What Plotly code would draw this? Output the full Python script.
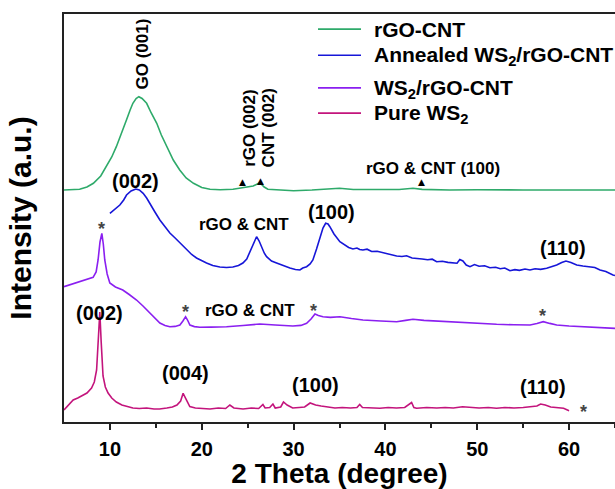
import plotly.graph_objects as go

# XRD patterns: (2-theta in degrees, intensity in a.u. incl. vertical stacking offset)
RGO_CNT = [
    (5.0, 232), (6.0, 232.3), (6.7, 232.7), (7.5, 235), (8.2, 238.7), (9.0, 246), (9.6, 255.3),
    (10.2, 265), (10.7, 275.3), (11.3, 289), (11.8, 302), (12.2, 312), (12.5, 318.7),
    (12.85, 323.5), (13.15, 325.3), (13.5, 323.5), (14.0, 318.7), (14.5, 309), (15.1, 298.7),
    (15.6, 287), (16.2, 275.3), (16.9, 262), (17.6, 252), (18.3, 244), (19.1, 238.7),
    (20.0, 234.5), (20.9, 232.7), (22.0, 232.3), (23.4, 232.7), (24.0, 233.5), (24.7, 234.7),
    (25.6, 236), (26.33, 239.3), (26.8, 235), (27.2, 232.7), (28.5, 231.8), (30.0, 231.3),
    (32.0, 232), (35.0, 233.7), (36.5, 232.5), (39.0, 232.3), (41.5, 232.5), (43.0, 233.7),
    (44.0, 232.6), (47.0, 232), (50.0, 232.3), (55.0, 232), (60.0, 232.2), (65.0, 232),
]

ANNEALED = [
    (10.0, 208.7), (10.5, 213), (11.08, 217), (11.5, 222), (11.81, 227), (12.3, 231),
    (12.82, 233), (13.2, 232), (13.62, 228.7), (14.0, 224), (14.35, 219), (14.9, 210),
    (15.44, 202), (16.0, 195), (16.53, 189), (17.1, 184), (17.62, 179), (18.0, 175.5),
    (18.34, 172), (18.9, 167.5), (19.43, 164), (20.0, 161), (20.52, 159), (21.2, 156.5),
    (21.97, 155), (22.7, 154.5), (23.39, 155), (24.0, 156.5), (24.48, 159), (24.9, 163),
    (25.24, 170), (25.6, 178), (25.97, 185.3), (26.25, 181), (26.51, 175.3), (26.8, 169),
    (27.06, 165.3), (27.6, 161), (28.15, 159), (28.9, 156), (29.6, 154), (30.2, 152.5),
    (30.69, 152), (31.0, 154), (31.42, 155.3), (31.8, 158), (32.1, 162), (32.5, 173),
    (32.87, 185.3), (33.2, 194), (33.49, 198.7), (33.75, 198), (33.95, 195.3), (34.4, 188),
    (35.04, 180.3), (35.6, 177), (36.0, 174.5), (36.46, 173), (36.9, 174), (37.2, 172.5),
    (37.55, 172), (38.0, 172.8), (38.5, 170.5), (39.1, 170.8), (39.73, 169.3), (40.3, 168.5),
    (40.8, 167.2), (41.22, 166), (41.8, 165.5), (42.3, 166.2), (42.9, 164), (43.4, 163.7),
    (44.0, 163), (44.6, 162.2), (45.1, 162.8), (45.58, 160.3), (46.2, 160.8), (46.8, 159.6),
    (47.35, 159.3), (47.8, 158.8), (48.1, 162.5), (48.44, 161), (48.8, 157), (49.21, 155.3),
    (49.7, 157.5), (50.2, 155.8), (50.8, 156.2), (51.38, 154.3), (52.0, 154.8), (52.5, 153.2),
    (53.0, 154), (53.56, 151.3), (54.1, 152.4), (54.6, 151.6), (55.2, 153), (55.74, 152),
    (56.3, 153.2), (56.9, 152.6), (57.56, 153.7), (58.1, 155), (58.65, 157), (59.2, 159.5),
    (59.66, 161), (60.2, 159.5), (60.83, 157), (61.5, 156), (62.28, 155.3), (62.8, 154.5),
    (63.37, 152), (64.0, 150.5), (64.78, 147), (65.0, 146.5),
]

WS2_RGO_CNT = [
    (5.0, 135.3), (5.8, 137.5), (6.72, 140.3), (7.5, 142.5), (8.17, 144.7), (8.5, 150),
    (8.71, 162), (8.92, 180), (9.12, 188.7), (9.28, 178), (9.44, 162), (9.7, 148),
    (9.99, 139), (10.6, 135), (11.4, 132), (12.1, 127.5), (12.9, 122), (13.6, 116),
    (14.35, 109), (14.9, 103.5), (15.44, 99), (16.0, 96.5), (16.53, 95.3), (17.1, 95.6),
    (17.62, 97), (17.95, 101), (18.24, 105.3), (18.45, 102), (18.71, 97), (19.2, 95.4),
    (19.8, 94.7), (21.0, 94.9), (22.7, 95.3), (24.5, 96.5), (26.33, 98), (28.0, 97),
    (29.92, 96), (30.8, 96.6), (31.42, 98.7), (31.9, 103), (32.33, 108), (32.7, 106.5),
    (33.2, 105.3), (34.0, 104.6), (35.05, 105.3), (36.3, 103.5), (37.55, 102), (39.5, 101),
    (41.22, 100.3), (42.2, 101.6), (43.0, 102.7), (44.2, 101.6), (46.67, 100.3),
    (49.5, 99), (52.11, 97.7), (54.0, 97.2), (55.75, 97), (56.5, 98.5), (57.19, 100.3),
    (57.9, 98.6), (58.65, 97), (60.0, 96), (61.19, 95.3), (63.0, 94.5), (64.8, 93.7), (65.0, 93.6),
]

PURE_WS2 = [
    (5.0, 12), (5.5, 17), (6.0, 22), (6.5, 24), (7.1, 27), (7.5, 29), (8.0, 34), (8.3, 40),
    (8.55, 52), (8.75, 85), (8.9, 110), (9.05, 80), (9.25, 46), (9.5, 35), (9.8, 29),
    (10.2, 24), (10.7, 20), (11.3, 17), (12.0, 15), (12.5, 14), (13.2, 13.5), (14.0, 14),
    (14.8, 13), (15.4, 13), (16.2, 14), (16.8, 15), (17.3, 17), (17.7, 21), (17.97, 28.7),
    (18.3, 22), (18.7, 15.5), (19.3, 14), (20.0, 13.5), (20.9, 13), (21.8, 14), (22.6, 13.5),
    (23.06, 17), (23.5, 14), (24.5, 13), (25.4, 14), (26.2, 13.5), (26.66, 17.5), (26.9, 14),
    (27.4, 14.5), (27.75, 18), (28.0, 14), (28.6, 15), (28.9, 20), (29.3, 17), (29.9, 14),
    (30.6, 14.5), (31.2, 15), (31.8, 19), (32.4, 17), (33.0, 16), (33.6, 15.3), (34.5, 14),
    (35.3, 14.5), (36.2, 14), (36.9, 14.5), (37.2, 17.5), (37.5, 14.5), (38.3, 14),
    (39.4, 13.7), (40.3, 14.5), (41.2, 14), (42.1, 14.5), (42.85, 19.5), (43.1, 14.5),
    (43.4, 13.7), (44.5, 14.5), (45.6, 14), (46.5, 14.5), (47.4, 14), (48.4, 15.3),
    (49.3, 14.5), (50.2, 14), (51.2, 14.5), (52.1, 13.7), (53.0, 14.5), (54.0, 14),
    (55.0, 14.5), (55.9, 15), (56.5, 16), (56.9, 18), (57.4, 17), (58.0, 15), (58.7, 14.5),
    (59.4, 13.7), (60.0, 11.3),
]

SERIES = [
    ("rGO-CNT", RGO_CNT, "#2eaa6a"),
    ("Annealed WS<sub>2</sub>/rGO-CNT", ANNEALED, "#1616d8"),
    ("WS<sub>2</sub>/rGO-CNT", WS2_RGO_CNT, "#8a1ff0"),
    ("Pure WS<sub>2</sub>", PURE_WS2, "#c3147c"),
]

# Peak labels: (text, 2-theta, intensity, rotated, font size)
PEAK_LABELS = [
    ("GO (001)", 13.44, 368, True, 17),
    ("rGO (002)", 25.13, 294, True, 17),
    ("CNT (002)", 27.31, 294.5, True, 17),
    ("rGO & CNT (100)", 45.17, 254, False, 17),
    ("(002)", 12.82, 241, False, 20),
    ("rGO & CNT", 24.59, 197.7, False, 17),
    ("(100)", 34.18, 210.3, False, 20),
    ("(110)", 59.34, 173.7, False, 20),
    ("rGO & CNT", 25.24, 112, False, 17),
    ("(002)", 8.87, 109.3, False, 20),
    ("(004)", 18.27, 48.7, False, 20),
    ("(100)", 32.43, 37, False, 20),
    ("(110)", 57.17, 34.7, False, 20),
]
TRIANGLES = [(24.45, 240.3), (26.36, 241.5), (43.94, 239.8)]
ASTERISKS = [(9.12, 197), (18.24, 113.7), (32.21, 115.3), (57.12, 110), (61.55, 13.7)]

# Key layout (paper fractions): sample line span, text start, row centres, text nudges
KEY_X0, KEY_X1, KEY_TEXT_X = 0.461, 0.539, 0.559
KEY_ROWS_Y = [0.963, 0.899, 0.819, 0.757]
KEY_TEXT_SHIFT = [0, -1, -1, -1]

FONT = "Liberation Sans, Arial, sans-serif"

fig = go.Figure()
for name, pts, color in SERIES:
    fig.add_trace(go.Scatter(
        x=[p[0] for p in pts], y=[p[1] for p in pts], mode="lines", name=name,
        line=dict(color=color, width=1.6), showlegend=False,
    ))

annotations = []
shapes = []
for text, x, y, rot, size in PEAK_LABELS:
    annotations.append(dict(
        x=x, y=y, text=text, showarrow=False, textangle=-90 if rot else 0,
        font=dict(family=FONT, size=size, color="black", weight="bold"),
    ))
for x, y in TRIANGLES:
    annotations.append(dict(
        x=x, y=y, text="▲", showarrow=False,
        font=dict(family="DejaVu Sans", size=9, color="black"),
    ))
for x, y in ASTERISKS:
    annotations.append(dict(
        x=x, y=y, text="*", showarrow=False, yshift=-4,
        font=dict(family=FONT, size=18, color="#444444"),
    ))

# Key: one sample line and one label per series
for (name, _, color), ky, shift in zip(SERIES, KEY_ROWS_Y, KEY_TEXT_SHIFT):
    shapes.append(dict(
        type="line", xref="paper", yref="paper", x0=KEY_X0, x1=KEY_X1, y0=ky, y1=ky,
        line=dict(color=color, width=1.6),
    ))
    annotations.append(dict(
        xref="paper", yref="paper", x=KEY_TEXT_X, y=ky, xanchor="left", yanchor="middle",
        text=name, showarrow=False, yshift=shift,
        font=dict(family=FONT, size=21, color="black", weight="bold"),
    ))

fig.update_layout(
    width=615, height=489,
    margin=dict(l=64, r=0, t=14, b=67, autoexpand=False),
    paper_bgcolor="white", plot_bgcolor="white",
    font=dict(family=FONT, color="black", weight="bold"),
    showlegend=False,
    xaxis=dict(
        range=[5, 65], showgrid=False, zeroline=False, automargin=False,
        showline=True, linecolor="#222222", linewidth=1.8, mirror=True,
        ticks="outside", ticklen=6, tickwidth=1.5, tickcolor="#222222",
        tickvals=[10, 20, 30, 40, 50, 60], ticklabelstandoff=2,
        tickfont=dict(family=FONT, size=20, color="black", weight="bold"),
        minor=dict(tickvals=[15, 25, 35, 45, 55, 65], ticks="outside", ticklen=4,
                   tickwidth=1.5, tickcolor="#222222"),
        title=dict(text="2 Theta (degree)", standoff=11,
                   font=dict(family=FONT, size=28, color="black", weight="bold")),
    ),
    yaxis=dict(
        range=[0, 408], showgrid=False, zeroline=False, automargin=False,
        showline=True, linecolor="#222222", linewidth=1.8,
        ticks="", showticklabels=False,
        title=dict(text="Intensity (a.u.)", standoff=22,
                   font=dict(family=FONT, size=30, color="black", weight="bold")),
    ),
    annotations=annotations,
    shapes=shapes,
)

fig.write_html("out.html")
